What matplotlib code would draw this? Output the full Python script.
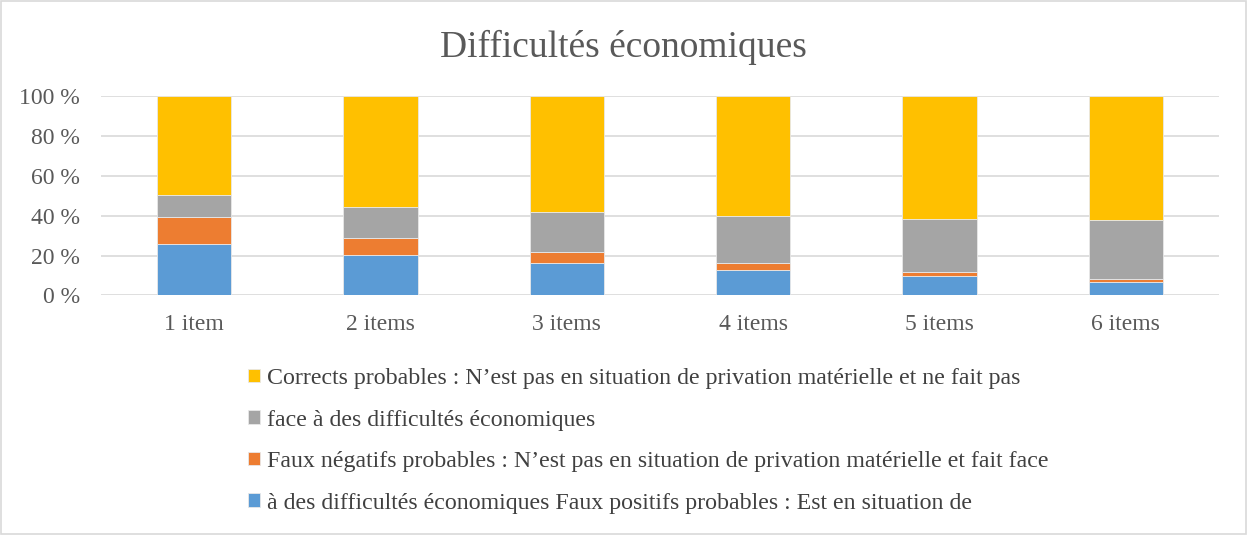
import matplotlib.pyplot as plt
import numpy as np
from matplotlib.patches import Rectangle

plt.rcParams['font.family'] = ['Liberation Serif', 'DejaVu Serif']

categories = ["1 item", "2 items", "3 items", "4 items", "5 items", "6 items"]
blue = [25.7, 20.5, 16.5, 12.8, 9.9, 6.9]
orange = [13.9, 8.5, 5.5, 3.5, 2.0, 1.2]
gray = [10.9, 15.6, 19.9, 23.8, 26.7, 29.7]
yellow = [49.5, 55.4, 58.1, 59.9, 61.4, 62.2]

labels = [
    "à des difficultés économiques Faux positifs probables : Est en situation de",
    "Faux négatifs probables : N\u2019est pas en situation de privation matérielle et fait face",
    "face à des difficultés économiques",
    "Corrects probables : N\u2019est pas en situation de privation matérielle et ne fait pas",
]
colors = ["#5B9BD5", "#ED7D31", "#A5A5A5", "#FFC000"]

fig = plt.figure(figsize=(12.47, 5.35), dpi=100)
ax = fig.add_axes([0.081, 0.4477, 0.8965, 0.3723])

x = np.arange(len(categories))
bottom = np.zeros(len(categories))
handles = []
for vals, col, lab in zip([blue, orange, gray, yellow], colors, labels):
    b = ax.bar(x, vals, 0.4, bottom=bottom, color=col, edgecolor="#e8e8e8",
               linewidth=0.6, label=lab, zorder=3)
    handles.append(b)
    bottom += np.array(vals)

ax.set_xlim(-0.5, len(categories) - 0.5)
ax.set_ylim(0, 100)
ax.set_yticks(range(0, 101, 20))
ax.set_yticklabels([f"{v} %" for v in range(0, 101, 20)])
ax.set_xticks(x)
ax.set_xticklabels(categories)
ax.grid(axis="y", color="#d9d9d9", linewidth=1.2, zorder=0)
for s in ax.spines.values():
    s.set_visible(False)
ax.tick_params(axis="both", length=0, labelsize=17, colors="#595959")
ax.tick_params(axis="x", pad=13)
ax.tick_params(axis="y", pad=15)

fig.suptitle("Difficultés économiques", fontsize=27, color="#595959", y=0.945)

fig.legend(handles[::-1], labels[::-1], loc="upper left", bbox_to_anchor=(0.1915, 0.33),
           frameon=False, fontsize=17.2, labelcolor="#404040", handlelength=0.5,
           handleheight=0.5, handletextpad=0.3, labelspacing=0.86, borderaxespad=0)

fig.patches.append(Rectangle((0.001, 0.002), 0.998, 0.996, transform=fig.transFigure,
                             fill=False, edgecolor="#d9d9d9", linewidth=1.2))

fig.savefig("out.png", dpi=100)
